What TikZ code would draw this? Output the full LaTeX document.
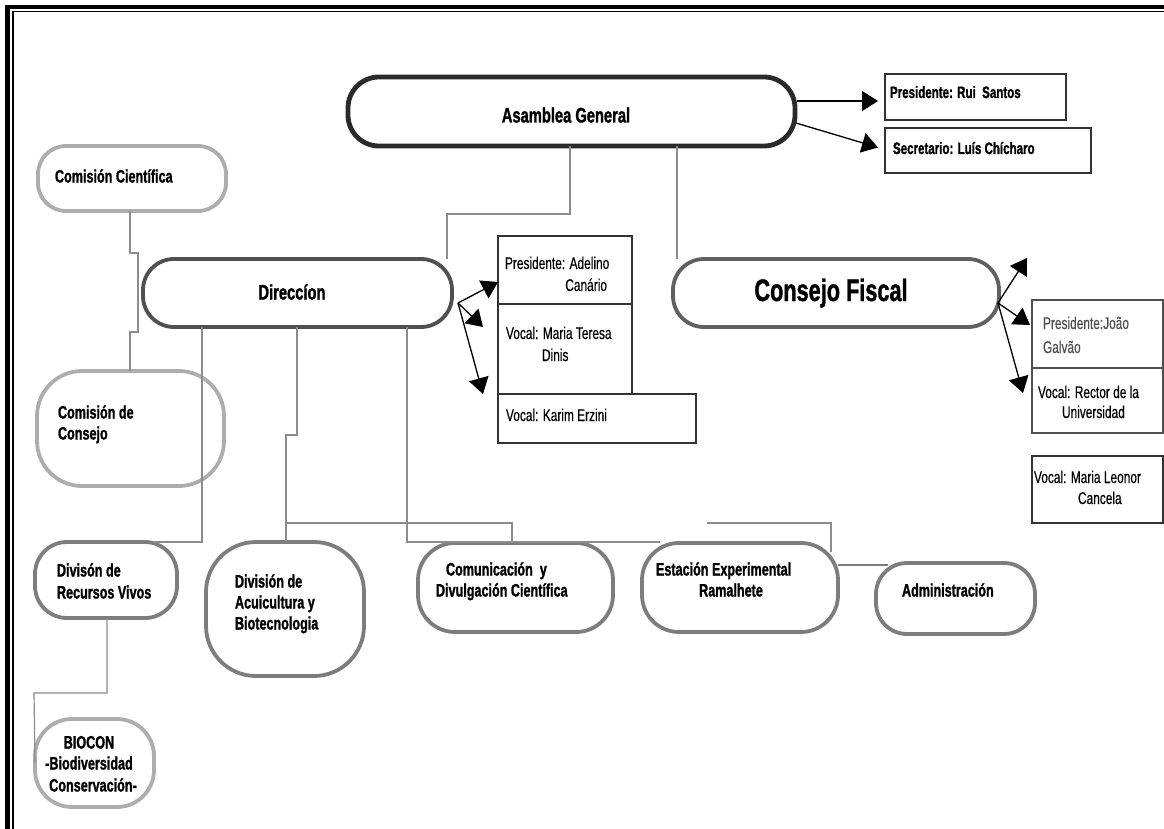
\documentclass[tikz,border=0pt]{standalone}
\usepackage{fontspec}
\setmainfont{Liberation Sans}[FakeStretch=0.70,UprightFeatures={FakeBold=0.4}]
\newfontfamily\bnar{Liberation Sans}[FakeStretch=0.70,BoldFeatures={FakeBold=1.2}]
\usetikzlibrary{arrows.meta}
\definecolor{cdark}{HTML}{2A2A2A}
\definecolor{cdir}{HTML}{505050}
\definecolor{ccf}{HTML}{606060}
\definecolor{clight}{HTML}{ADADAD}
\definecolor{cmid}{HTML}{7D7D7D}
\definecolor{cconn}{HTML}{8C8C8C}
\definecolor{cbox}{HTML}{333333}
\begin{document}
\begin{tikzpicture}[x=1pt,y=-1pt,
  every node/.style={inner sep=0pt,outer sep=0pt},
  ovalbox/.style={draw,rectangle,line width=3.8pt},
  recbox/.style={draw=cbox,rectangle,line width=1.3pt},
  conn/.style={draw=cconn,line width=1.2pt},
  arr/.style={draw=black,line width=1.3pt,-{Triangle[length=16pt,width=20pt]}},
  lb/.style={font=\bnar\bfseries\fontsize{18}{21}\selectfont},
  lbig/.style={font=\bnar\bfseries\fontsize{21}{25}\selectfont},
  lhuge/.style={font=\bnar\bfseries\fontsize{31}{35}\selectfont},
  sm/.style={font=\fontsize{17}{20}\selectfont},
  smb/.style={font=\bnar\bfseries\fontsize{16.5}{19}\selectfont}
]
\useasboundingbox (0,0) rectangle (1164,829);
\fill[white] (0,0) rectangle (1164,829);
% page border (left and top)
\draw[line width=4.5pt] (7.5,829) -- (7.5,7) -- (1164,7);
\draw[line width=1.8pt] (13,829) -- (13,11.5) -- (1164,11.5);

% ---- boxes ----
\node[ovalbox,draw=cdark,line width=4.8pt,rounded corners=31pt,minimum width=447pt,minimum height=69pt] (asam) at (571.5,111.5) {};
\node[ovalbox,draw=clight,rounded corners=28pt,minimum width=188pt,minimum height=65pt] (comcien) at (132,178.5) {};
\node[ovalbox,draw=cdir,rounded corners=31pt,minimum width=309pt,minimum height=68pt] (dir) at (297.5,293) {};
\node[ovalbox,draw=ccf,rounded corners=31pt,minimum width=326pt,minimum height=68pt] (consf) at (836,293) {};
\node[ovalbox,draw=clight,rounded corners=45pt,minimum width=187pt,minimum height=115pt] (comcons) at (130.5,428.5) {};
\node[ovalbox,draw=cmid,rounded corners=32pt,minimum width=142pt,minimum height=76pt] (divrv) at (106,580) {};
\node[ovalbox,draw=cmid,rounded corners=50pt,minimum width=158pt,minimum height=134pt] (divac) at (285,609) {};
\node[ovalbox,draw=cmid,rounded corners=37pt,minimum width=195pt,minimum height=89pt] (comun) at (515.5,587.5) {};
\node[ovalbox,draw=cmid,rounded corners=37pt,minimum width=196pt,minimum height=89pt] (estac) at (740,587.5) {};
\node[ovalbox,draw=cmid,rounded corners=31pt,minimum width=159pt,minimum height=71pt] (admin) at (955.5,598.5) {};
\node[ovalbox,draw=clight,rounded corners=37pt,minimum width=119pt,minimum height=88pt] (biocon) at (94.5,763) {};

\node[recbox,minimum width=181pt,minimum height=46pt] (presRui) at (975.5,97) {};
\node[recbox,minimum width=206pt,minimum height=45pt] (secr) at (988,150.5) {};
\node[recbox,minimum width=134pt,minimum height=68pt] (presAd) at (565,270) {};
\node[recbox,minimum width=134pt,minimum height=90pt] (vocMT) at (565,349) {};
\node[recbox,minimum width=198pt,minimum height=49pt] (vocKE) at (597,418.5) {};
\node[recbox,draw=cdir,minimum width=131pt,minimum height=68pt] (presJG) at (1097.5,334) {};
\node[recbox,draw=cdir,minimum width=131pt,minimum height=65pt] (vocRU) at (1097.5,400.5) {};
\node[recbox,minimum width=131pt,minimum height=67pt] (vocML) at (1097.5,489.5) {};

% ---- connectors ----
\draw[conn] (570,0 |- asam.south) -- (570,214) -- (447,214) -- (447,0 |- dir.north);
\draw[conn] (677,0 |- asam.south) -- (677,0 |- consf.north);
\draw[conn] (130,0 |- comcien.south) -- (130,253) -- (138,253) -- (138,332) -- (130,332) -- (130,0 |- comcons.north);
\draw[conn] (202,0 |- dir.south) -- (202,542) -- (153,542);
\draw[conn] (297,0 |- dir.south) -- (297,435) -- (286,435) -- (286,0 |- divac.north);
\coordinate (j1) at (286,523);
\draw[conn] (j1) -- (512,523) -- (512,0 |- comun.north);
\draw[conn] (407,0 |- dir.south) -- (407,542) -- (660,542);
\coordinate (fe) at (707,523);
\draw[conn] (fe) -- (831,523) -- (831,552);
\draw[conn,draw=cmid,line width=2pt] (estac.east |- 0,565) -- (888,565);
\draw[conn] (107,0 |- divrv.south) -- (107,693) -- (34,693) -- (biocon.west);

% ---- arrows ----
\draw[arr] (797,101) -- ([xshift=-7pt,yshift=-4pt]presRui.west);
\draw[arr] (796,123) -- ([xshift=-7pt,yshift=3pt]secr.west);
\coordinate (dfan) at (458,303);
\draw[arr] (dfan) -- ([yshift=22pt]presAd.south west);
\draw[arr] (dfan) -- ([xshift=-15pt,yshift=-23pt]vocMT.north west);
\draw[arr] (dfan) -- ([xshift=-15pt]vocKE.north west);
\coordinate (cfan) at (998,303);
\coordinate (cfup) at (1027,258);
\draw[arr] (cfan) -- (cfup);
\draw[arr] (cfan) -- ([xshift=-2pt,yshift=-25pt]presJG.north west);
\draw[arr] (cfan) -- ([xshift=-9pt,yshift=-25pt]vocRU.north west);

% ---- texts ----
\node[lbig,anchor=base] (asam-t) at (566,122.5) {Asamblea General};
\node[lb,anchor=base west] (comcien-t) at (55,182.5) {Comisión Científica};
\node[lbig,anchor=base] (dir-t) at (292,299.5) {Direccíon};
\node[lhuge,anchor=base] (consf-t) at (831,301) {Consejo Fiscal};
\node[smb,anchor=base west] (presRui-t) at (890,98) {Presidente: Rui\ \ Santos};
\node[smb,anchor=base west] (secr-t) at (893,154) {Secretario: Luís Chícharo};
\node[sm,anchor=base west] (presAd-t1) at (505,269) {Presidente: Adelino};
\node[sm,anchor=base east] (presAd-t2) at (607,291) {Canário};
\node[sm,anchor=base west] (vocMT-t1) at (506,339) {Vocal: Maria Teresa};
\node[sm,anchor=base west] (vocMT-t2) at (542,361) {Dinis};
\node[sm,anchor=base west] (vocKE-t) at (506,421) {Vocal: Karim Erzini};
\node[sm,anchor=base west,text=cdir] (presJG-t1) at (1043,329) {Presidente:João};
\node[sm,anchor=base west,text=cdir] (presJG-t2) at (1043,353) {Galvão};
\node[sm,anchor=base west] (vocRU-t1) at (1038,398) {Vocal: Rector de la};
\node[sm,anchor=base west] (vocRU-t2) at (1062,418) {Universidad};
\node[sm,anchor=base west] (vocML-t1) at (1034,483) {Vocal: Maria Leonor};
\node[sm,anchor=base west] (vocML-t2) at (1078,504) {Cancela};
\node[lb,anchor=base west] (comcons-t1) at (58,418.5) {Comisión de};
\node[lb,anchor=base west] (comcons-t2) at (58,439.5) {Consejo};
\node[lb,anchor=base west] (divrv-t1) at (57,576.5) {Divisón de};
\node[lb,anchor=base west] (divrv-t2) at (57,598.5) {Recursos Vivos};
\node[lb,anchor=base west] (divac-t1) at (235,587.5) {División de};
\node[lb,anchor=base west] (divac-t2) at (235,608.5) {Acuicultura y};
\node[lb,anchor=base west] (divac-t3) at (235,629.5) {Biotecnologia};
\node[lb,anchor=base west] (comun-t1) at (446,575.5) {Comunicación\ \ y};
\node[lb,anchor=base west] (comun-t2) at (436,596.5) {Divulgación Científica};
\node[lb,anchor=base west] (estac-t1) at (656,575.5) {Estación Experimental};
\node[lb,anchor=base] (estac-t2) at (731,596.5) {Ramalhete};
\node[lb,anchor=base west] (admin-t) at (902,596.5) {Administración};
\node[lb,anchor=base] (biocon-t1) at (89,748.5) {BIOCON};
\node[lb,anchor=base] (biocon-t2) at (89,769.5) {-Biodiversidad};
\node[lb,anchor=base] (biocon-t3) at (93,791.5) {Conservación-};
\end{tikzpicture}
\end{document}
